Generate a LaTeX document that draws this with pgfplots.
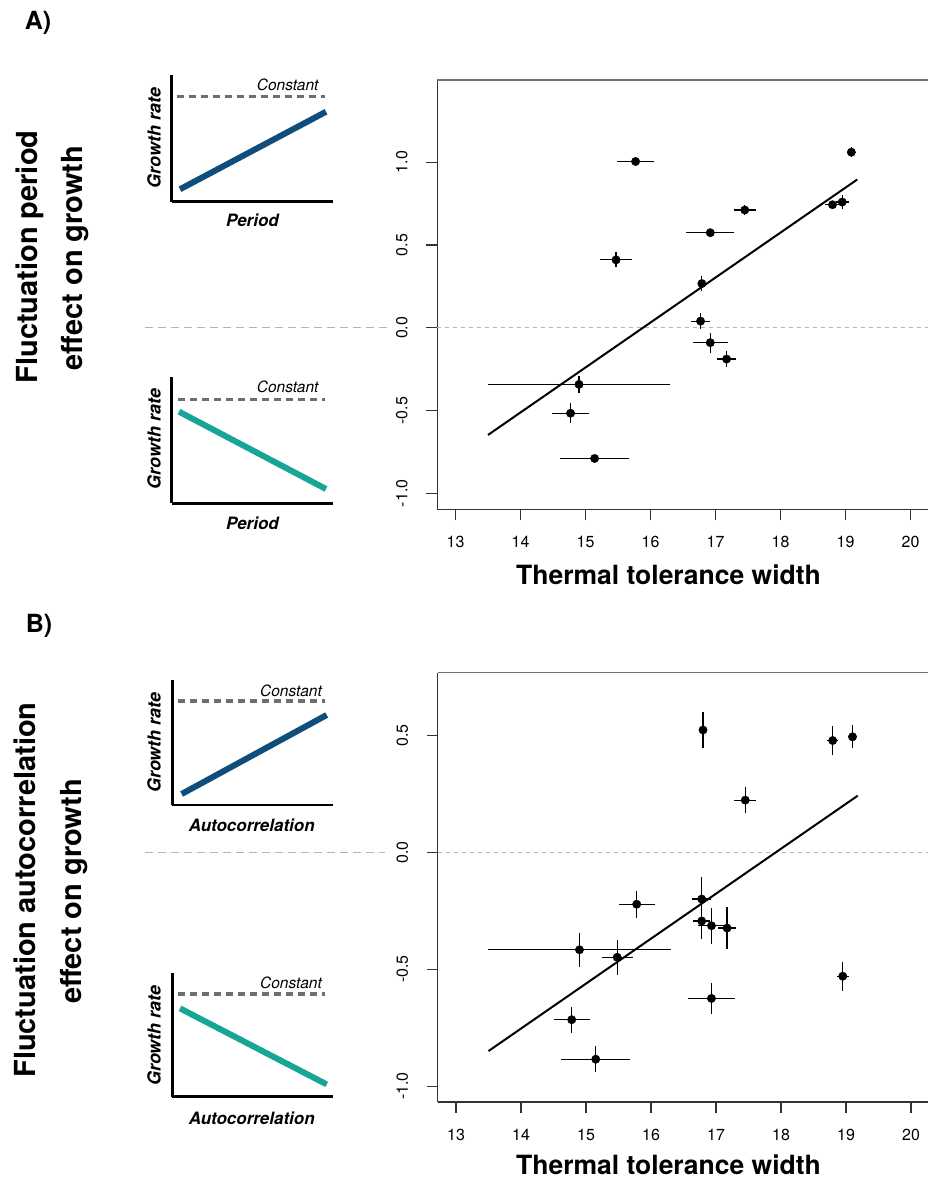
\documentclass[border=0pt]{standalone}
\usepackage{fontspec}
\setmainfont{TeX Gyre Heros}
\usepackage{pgfplots}
\usepackage{pgfplotstable}
\pgfplotsset{compat=1.18}

\definecolor{upblue}{HTML}{0F4D7B}
\definecolor{downteal}{HTML}{17A598}
\definecolor{zerogray}{HTML}{B4B4B4}
\definecolor{constgray}{HTML}{6E6E6E}

% tolerance width vs. effect of fluctuation period
\pgfplotstableread{
x      y       ex    ey
15.77  1.004   0.28  0.02
19.09  1.060   0.07  0.03
18.80  0.743   0.12  0.02
18.95  0.759   0.10  0.04
17.45  0.711   0.17  0.03
16.92  0.574   0.37  0.02
15.47  0.410   0.24  0.045
16.79  0.267   0.05  0.045
16.77  0.040   0.15  0.05
16.92 -0.090   0.27  0.06
17.17 -0.189   0.145 0.05
14.90 -0.342   1.40  0.05
14.77 -0.516   0.28  0.06
15.14 -0.789   0.53  0.01
}\periodtab

% tolerance width vs. effect of autocorrelation
\pgfplotstableread{
x      y       ex    ey
16.80  0.523   0.02  0.078
18.795 0.478   0.08  0.063
19.10  0.494   0.07  0.05
17.45  0.223   0.17  0.055
16.78 -0.200   0.15  0.095
16.78 -0.294   0.13  0.075
16.93 -0.314   0.20  0.077
17.17 -0.324   0.14  0.088
15.78 -0.222   0.28  0.057
14.90 -0.417   1.41  0.072
15.48 -0.449   0.24  0.075
18.95 -0.530   0.09  0.062
16.93 -0.625   0.36  0.068
14.78 -0.716   0.28  0.055
15.15 -0.885   0.53  0.055
}\autotab

\pgfplotsset{
  mainpanel/.style={
    scale only axis, width=491.4pt, height=429.3pt,
    xmin=12.72, xmax=20.28, clip=false,
    axis x line*=bottom, axis y line*=left,
    axis line style={line width=1.2pt, black!80},
    tick align=outside, major tick length=11pt,
    every tick/.style={line width=1.1pt, black!80},
    xtick={13,14,...,20},
    tick label style={font=\fontsize{16}{16}\selectfont},
    /pgf/number format/assume math mode=true,
    xticklabel style={anchor=base, yshift=-27pt},
    yticklabel style={xshift=-19pt, rotate=90, anchor=base},
  },
  schema/.style={
    scale only axis, width=161.6pt,
    xmin=0, xmax=1, ymin=0, ymax=1, clip=false,
    axis lines=left, axis line style={-, line width=2.8pt, black},
    xtick=\empty, ytick=\empty,
  },
  pts/.style={only marks, mark=*, mark size=4.2pt, black,
    mark options={fill=black},
    error bars/.cd, x dir=both, x explicit, y dir=both, y explicit,
    error mark=none, error bar style={line width=1.2pt, black}},
  constline/.style={constgray, line width=3.5pt, dash pattern=on 7pt off 5pt},
}

\newcommand{\bigsize}{\fontsize{29}{29}\selectfont\bfseries}
\newcommand{\axsize}{\fontsize{26.5}{26.5}\selectfont\bfseries}
\newcommand{\schsize}{\fontsize{17}{17}\selectfont\bfseries\itshape}
\newcommand{\grsize}{\fontsize{18}{18}\selectfont\bfseries\itshape}
\newcommand{\consize}{\fontsize{15.5}{15.5}\selectfont\itshape}

\begin{document}
\begin{tikzpicture}[x=1pt, y=1pt]
\useasboundingbox (0pt,0pt) rectangle (927pt,-1185pt);

% ---------- panel A ----------
\begin{axis}[mainpanel, at={(437.3pt,-509.3pt)}, anchor=south west,
  ymin=-1.096, ymax=1.496,
  ytick={-1,-0.5,0,0.5,1}, yticklabels={-1.0,-0.5,0.0,0.5,1.0}]
\addplot[zerogray, line width=1pt, dash pattern=on 4pt off 4pt] coordinates {(12.72,0) (20.28,0)};
\addplot[black, line width=2pt] coordinates {(13.5,-0.647) (19.18,0.895)};
\addplot[pts] table[x=x, y=y, x error=ex, y error=ey] {\periodtab};
\draw[black!55, line width=1.2pt] (rel axis cs:0,1) -- (rel axis cs:1,1);
\end{axis}

\begin{axis}[schema, at={(171.7pt,-201.7pt)}, anchor=south west, height=126.7pt]
\addplot[constline] coordinates {(0.031,0.829) (0.949,0.829)};
\addplot[upblue, line width=6pt] coordinates {(0.051,0.098) (0.955,0.710)};
\end{axis}

\begin{axis}[schema, at={(171.7pt,-503.3pt)}, anchor=south west, height=126.6pt]
\addplot[constline] coordinates {(0.041,0.821) (0.949,0.821)};
\addplot[downteal, line width=6pt] coordinates {(0.045,0.724) (0.955,0.113)};
\end{axis}

% ---------- panel B ----------
\begin{axis}[mainpanel, at={(437.8pt,-1102pt)}, anchor=south west,
  ymin=-1.068, ymax=0.768,
  ytick={-1,-0.5,0,0.5}, yticklabels={-1.0,-0.5,0.0,0.5}]
\addplot[zerogray, line width=1pt, dash pattern=on 4pt off 4pt] coordinates {(12.72,0) (20.28,0)};
\addplot[black, line width=2pt] coordinates {(13.5,-0.850) (19.18,0.242)};
\addplot[pts] table[x=x, y=y, x error=ex, y error=ey] {\autotab};
\draw[black!55, line width=1.2pt] (rel axis cs:0,1) -- (rel axis cs:1,1);
\end{axis}

\begin{axis}[schema, at={(172.3pt,-805pt)}, anchor=south west, width=161pt, height=125pt]
\addplot[constline] coordinates {(0.037,0.832) (0.948,0.832)};
\addplot[upblue, line width=6pt] coordinates {(0.058,0.088) (0.959,0.72)};
\end{axis}

\begin{axis}[schema, at={(172.3pt,-1096.7pt)}, anchor=south west, width=161pt, height=123.4pt]
\addplot[constline] coordinates {(0.037,0.832) (0.948,0.832)};
\addplot[downteal, line width=6pt] coordinates {(0.048,0.716) (0.959,0.10)};
\end{axis}

% dashed zero lines running out to the schematics
\draw[zerogray, line width=1.3pt, dash pattern=on 8pt off 5pt] (145pt,-327.8pt) -- (390pt,-327.8pt);
\draw[zerogray, line width=1.3pt, dash pattern=on 8pt off 5pt] (145pt,-852.3pt) -- (385pt,-852.3pt);

% x labels
\node[anchor=base, font=\axsize] at (668.5pt,-584pt) {Thermal tolerance width};
\node[anchor=base, font=\axsize] at (668.5pt,-1174pt) {Thermal tolerance width};

% panel letters and row titles
\node[font=\fontsize{25}{25}\selectfont\bfseries] at (38pt,-23pt) {A)};
\node[font=\fontsize{25}{25}\selectfont\bfseries] at (39pt,-626pt) {B)};
\node[rotate=90, anchor=base, font=\bigsize] at (37.5pt,-257pt) {Fluctuation period};
\node[rotate=90, anchor=base, font=\bigsize] at (82pt,-258pt) {effect on growth};
\node[rotate=90, anchor=base, font=\bigsize] at (35.5pt,-890pt) {Fluctuation autocorrelation};
\node[rotate=90, anchor=base, font=\bigsize] at (81pt,-891.5pt) {effect on growth};

% schematic labels
\node[font=\consize] at (287.7pt,-85pt) {Constant};
\node[font=\schsize] at (252.5pt,-220pt) {Period};
\node[rotate=90, font=\grsize] at (154pt,-138pt) {Growth rate};
\node[font=\consize] at (287.7pt,-387.3pt) {Constant};
\node[font=\schsize] at (252.5pt,-523.3pt) {Period};
\node[rotate=90, font=\grsize] at (154pt,-439pt) {Growth rate};
\node[font=\consize] at (291pt,-690.7pt) {Constant};
\node[font=\schsize] at (251.7pt,-825pt) {Autocorrelation};
\node[rotate=90, font=\grsize] at (154pt,-742.5pt) {Growth rate};
\node[font=\consize] at (291pt,-983.3pt) {Constant};
\node[font=\schsize] at (251.7pt,-1118.3pt) {Autocorrelation};
\node[rotate=90, font=\grsize] at (154pt,-1035.7pt) {Growth rate};
\end{tikzpicture}
\end{document}
